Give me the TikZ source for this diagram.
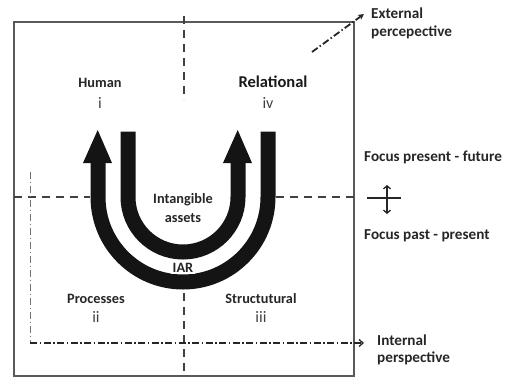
\documentclass[tikz,border=0pt]{standalone}
\usepackage{fontspec}
\setmainfont{Carlito}
\usetikzlibrary{arrows.meta}
\begin{document}
\begin{tikzpicture}[x=1pt,y=-1pt,
  lbl/.style={font=\fontsize{14.3}{16}\selectfont\bfseries, text=black!85, inner sep=0pt},
  big/.style={font=\fontsize{16.5}{18}\selectfont\bfseries, text=black!90, inner sep=0pt},
  num/.style={font=\fontsize{16}{18}\selectfont, text=black!75, inner sep=0pt},
  side/.style={font=\fontsize{15.2}{17}\selectfont\bfseries, text=black!85, inner sep=0pt, anchor=west},
  quad/.style={dash pattern=on 8pt off 6pt, line width=1.2pt, draw=black!75},
  dd/.style={dash pattern=on 7pt off 2.5pt on 1.5pt off 2.5pt, line width=1.8pt, draw=black!85},
  ddthin/.style={dash pattern=on 7pt off 3pt on 1pt off 3pt, line width=0.8pt, draw=black!55},
  band/.style={line width=15pt, draw=black!92},
  head/.style={fill=black!92},
]
\useasboundingbox (0,0) rectangle (510,377);
% frame
\coordinate (bnw) at (14,22);
\coordinate (bse) at (354,376);
\draw[black!65, line width=1.3pt] (bnw) rectangle (bse);
% quadrant dividers
\coordinate (vt1) at (184,16);
\coordinate (vt2) at (184,100);
\coordinate (vb1) at (184,293);
\coordinate (vb2) at (184,376);
\coordinate (hl1) at (14,197);
\coordinate (hl2) at (90,197);
\coordinate (hr1) at (276,197);
\coordinate (hr2) at (354,197);
\draw[quad] (vt1) -- (vt2);
\draw[quad] (vb1) -- (vb2);
\draw[quad] (hl1) -- (hl2);
\draw[quad] (hr1) -- (hr2);
% internal perspective lines
\coordinate (iv1) at (30,172);
\coordinate (iv2) at (30,343);
\coordinate (ih2) at (364,343);
\draw[ddthin] (iv1) -- (iv2);
\draw[dd, -{Straight Barb[length=4pt,width=7pt,line width=1.3pt]}] (iv2) -- (ih2);
% external perspective arrow
\coordinate (e1) at (312,52);
\coordinate (e2) at (364,14);
\draw[dd, -{Stealth[length=6pt,width=6pt]}] (e1) -- (e2);
% U arrows
\draw[band] (98,162) -- (98,197) arc[start angle=180, end angle=360, radius=85pt] -- (268,131.7);
\fill[head] (83,163) -- (97.7,130) -- (112,163) -- cycle;
\draw[band] (128,131.7) -- (128,197) arc[start angle=180, end angle=360, radius=55pt] -- (238,162);
\fill[head] (223,163) -- (237.7,130) -- (252,163) -- cycle;
% labels
\node[lbl] (human) at (100,83) {Human};
\node[num] (ni) at (100,103) {i};
\node[big] (rel) at (273,82) {Relational};
\node[num] (niv) at (268,103) {iv};
\node[lbl] (proc) at (96,299) {Processes};
\node[num] (nii) at (96,317) {ii};
\node[lbl] (struct) at (261,299) {Structutural};
\node[num] (niii) at (261,317) {iii};
\node[lbl] (intang) at (183,200) {Intangible};
\node[lbl] (assets) at (183,218) {assets};
\node[lbl, fill=white, inner sep=1.5pt] (iar) at (183,268) {IAR};
% side texts
\node[side] (ext1) at (371,13) {External};
\node[side] (ext2) at (371,32) {percepective};
\node[side] (fpf) at (364,157) {Focus present - future};
\node[side] (fpp) at (364,236) {Focus past - present};
\node[side] (int1) at (377,340) {Internal};
\node[side] (int2) at (377,358) {perspective};
% focus symbol
\coordinate (cl) at (367,198);
\coordinate (cr) at (401,198);
\coordinate (ct) at (387,185);
\coordinate (cb) at (387,214);
\draw[black!85, line width=1.3pt] (cl) -- (cr);
\draw[black!85, line width=1.3pt, {Straight Barb[length=3pt,width=7pt]}-{Straight Barb[length=3pt,width=7pt]}] (ct) -- (cb);
\end{tikzpicture}
\end{document}
